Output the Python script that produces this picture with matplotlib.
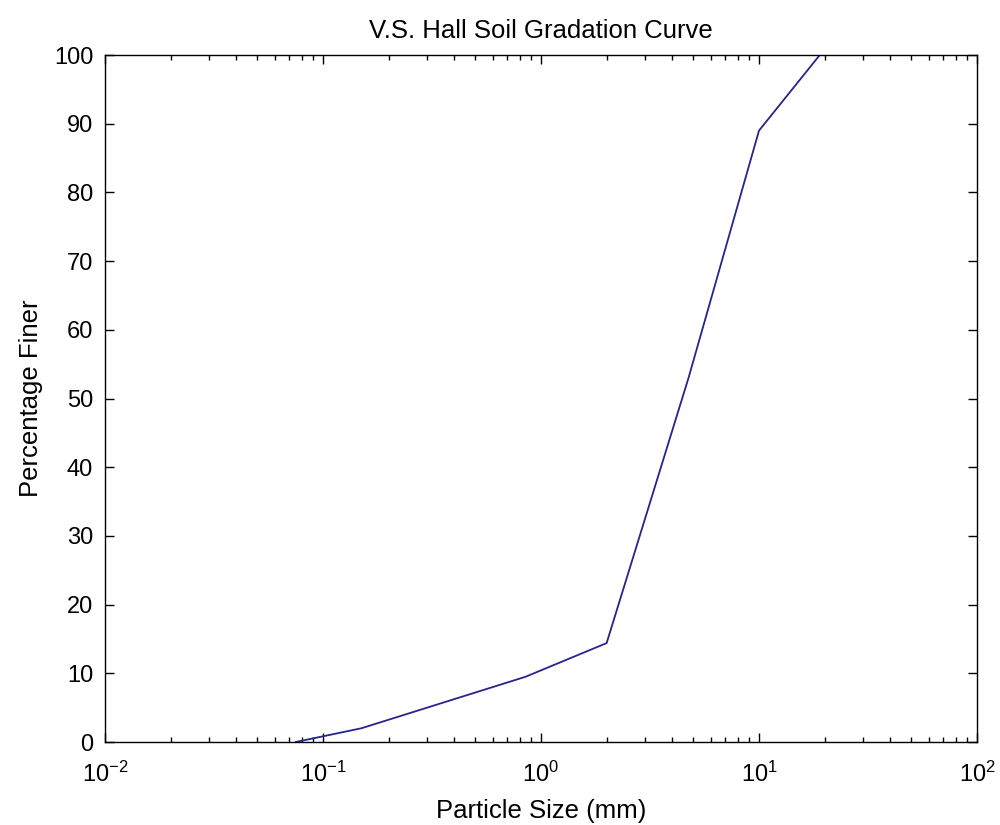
import matplotlib
matplotlib.use("Agg")
import matplotlib.pyplot as plt

# sieve sizes (mm) and percent passing
size_mm = [0.075, 0.15, 0.85, 2.0, 4.75, 10.0, 19.0]
pct_finer = [0, 2, 9.5, 14.4, 53, 89, 100]

plt.rcParams['font.family'] = ['Liberation Sans', 'DejaVu Sans']

fig = plt.figure(figsize=(10, 8.25), dpi=100)
ax = fig.add_axes([0.105, 0.1006, 0.872, 0.8327])

ax.semilogx(size_mm, pct_finer, color="#25258a", lw=1.3)

ax.set_xlim(1e-2, 1e2)
ax.set_ylim(0, 100)
ax.set_yticks(range(0, 101, 10))

ax.tick_params(which="both", direction="in", top=True, right=True, labelsize=17, colors="black")
ax.tick_params(which="major", length=6.5, width=1)
ax.tick_params(which="minor", length=3.8, width=1)
ax.tick_params(axis="x", which="both", pad=14)
ax.tick_params(axis="y", which="both", pad=8.5)
for s in ax.spines.values():
    s.set_linewidth(1)

ax.set_title("V.S. Hall Soil Gradation Curve", fontsize=18.5, pad=12)
ax.set_xlabel("Particle Size (mm)", fontsize=18.5, labelpad=9)
ax.set_ylabel("Percentage Finer", fontsize=18.5, labelpad=8)

fig.savefig("out.png", dpi=100)
